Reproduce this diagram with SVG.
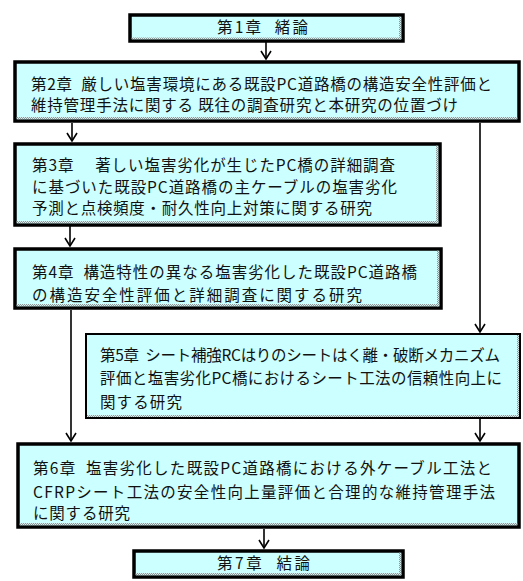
<svg xmlns="http://www.w3.org/2000/svg" width="523" height="581" viewBox="0 0 523 581">
<style>
.box{fill:#ccffff;stroke:#000;stroke-width:3.5}
.thin{stroke-width:2}
.sh{fill:url(#dots)}
.t{font-family:"Noto Sans CJK JP","Noto Sans CJK SC",sans-serif;font-size:15.5px;fill:#111;white-space:pre}
.c{fill:none;stroke:#000;stroke-width:1.6}
</style>
<defs>
<pattern id="dots" width="2" height="2" patternUnits="userSpaceOnUse">
<rect width="2" height="2" fill="#d8eeee"/>
<rect width="1" height="1" fill="#8a9a9a"/>
<rect x="1" y="1" width="1" height="1" fill="#8a9a9a"/>
</pattern>
<marker id="ah" viewBox="-10 -6 12 12" markerWidth="12" markerHeight="12" refX="0" refY="0" orient="auto" markerUnits="userSpaceOnUse" overflow="visible">
<path d="M-8,-5 L0,0 L-8,5" fill="none" stroke="#000" stroke-width="1.6"/>
</marker>
</defs>

<g id="connectors">
<line class="c" x1="266" y1="42" x2="266" y2="59" marker-end="url(#ah)"/>
<line class="c" x1="72" y1="123" x2="72" y2="141" marker-end="url(#ah)"/>
<line class="c" x1="480" y1="123" x2="480" y2="332" marker-end="url(#ah)"/>
<line class="c" x1="70" y1="226" x2="70" y2="246" marker-end="url(#ah)"/>
<line class="c" x1="71" y1="310" x2="71" y2="441" marker-end="url(#ah)"/>
<line class="c" x1="480" y1="419" x2="480" y2="441" marker-end="url(#ah)"/>
<line class="c" x1="264" y1="529" x2="264" y2="548" marker-end="url(#ah)"/>
</g>

<g id="ch1">
<rect class="box" x="130" y="15" width="273" height="26"/>
<rect class="sh" x="131.75" y="37.5" width="269.5" height="1.75"/>
<rect class="sh" x="399" y="16.75" width="2.25" height="22.5"/>
<text class="t" x="217" y="33" textLength="91">第1章  緒論</text>
</g>

<g id="ch2">
<rect class="box" x="15" y="62" width="504" height="59"/>
<rect class="sh" x="16.75" y="117" width="500.5" height="2.25"/>
<text class="t" x="31" y="90" textLength="461">第2章  厳しい塩害環境にある既設PC道路橋の構造安全性評価と</text>
<text class="t" x="31" y="111" textLength="427">維持管理手法に関する 既往の調査研究と本研究の位置づけ</text>
</g>

<g id="ch3">
<rect class="box" x="15" y="144" width="425" height="81"/>
<rect class="sh" x="16.75" y="221" width="421.5" height="2.25"/>
<rect class="sh" x="436" y="145.75" width="2.25" height="77.5"/>
<text class="t" x="32" y="171" textLength="363">第3章　 著しい塩害劣化が生じたPC橋の詳細調査</text>
<text class="t" x="32" y="193" textLength="365">に基づいた既設PC道路橋の主ケーブルの塩害劣化</text>
<text class="t" x="32" y="214" textLength="340">予測と点検頻度・耐久性向上対策に関する研究</text>
</g>

<g id="ch4">
<rect class="box" x="15" y="249" width="426" height="59"/>
<rect class="sh" x="16.75" y="304" width="422.5" height="2.25"/>
<rect class="sh" x="437" y="250.75" width="2.25" height="55.5"/>
<text class="t" x="32" y="278" textLength="385">第4章  構造特性の異なる塩害劣化した既設PC道路橋</text>
<text class="t" x="32" y="301" textLength="330">の構造安全性評価と詳細調査に関する研究</text>
</g>

<g id="ch5">
<rect class="box thin" x="86" y="334" width="434" height="84"/>
<rect class="sh" x="87" y="415" width="432" height="2"/>
<rect class="sh" x="517" y="335" width="2" height="82"/>
<text class="t" x="100" y="361" textLength="400">第5章  シート補強RCはりのシートはく離・破断メカニズム</text>
<text class="t" x="100" y="384" textLength="402">評価と塩害劣化PC橋におけるシート工法の信頼性向上に</text>
<text class="t" x="100" y="408" textLength="82">関する研究</text>
</g>

<g id="ch6">
<rect class="box" x="18" y="444" width="501" height="83"/>
<rect class="sh" x="19.75" y="523" width="497.5" height="2.25"/>
<text class="t" x="33" y="474" textLength="459">第6章  塩害劣化した既設PC道路橋における外ケーブル工法と</text>
<text class="t" x="33" y="498" textLength="462">CFRPシート工法の安全性向上量評価と合理的な維持管理手法</text>
<text class="t" x="33" y="519" textLength="97">に関する研究</text>
</g>

<g id="ch7">
<rect class="box" x="134" y="551" width="269" height="26"/>
<rect class="sh" x="135.75" y="573" width="265.5" height="2.25"/>
<rect class="sh" x="399" y="552.75" width="2.25" height="22.5"/>
<text class="t" x="217" y="569" textLength="93">第7章  結論</text>
</g>
</svg>
